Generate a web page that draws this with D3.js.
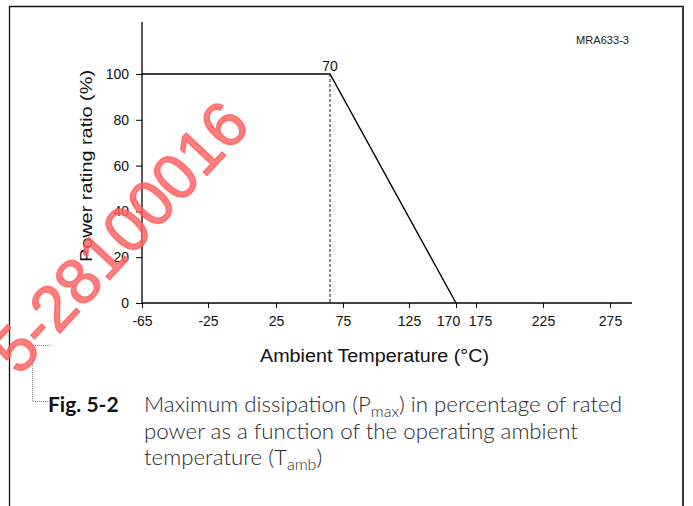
<!DOCTYPE html>
<html>
<head>
<meta charset="utf-8">
<script src="https://cdn.jsdelivr.net/npm/d3@7"></script>
<style>
  body { margin: 0; background: #fff; }
  svg { display: block; }
</style>
</head>
<body>
<svg id="chart" width="693" height="506"></svg>
<script>
// derating curve: temperature (degC) -> power ratio (%)
const curveTemp = [-65, 70, 170];
const curveRatio = [100, 100, 0];
const xTickValues = [-65, -25, 25, 75, 125, 170, 175, 225, 275];
const yTickValues = [0, 20, 40, 60, 80, 100];
const kneeTemp = 70;
const kneeLabel = '70';
const xTitle = 'Ambient Temperature (\u00B0C)';
const yTitle = 'Power rating ratio (%)';
const figCode = 'MRA633-3';
const captionTag = 'Fig. 5-2';
const watermark = '5-28100016';

(function () {
  'use strict';
  const svg = d3.select('#chart');
  const FONT = '"Liberation Sans", Arial, sans-serif';
  const CAPTION_FONT = 'Lato, "Open Sans", sans-serif';

  // the original drawing places its ticks unevenly, so the x scale is piecewise
  const x = d3.scaleLinear()
    .domain([-65, -25, 25, 70, 75, 125, 170, 175, 225, 275, 291])
    .range([142, 208, 276, 330, 343, 409, 456, 476, 543, 610, 632]);
  const y = d3.scaleLinear().domain([0, 122.7]).range([303, 22]);

  // page frame
  svg.append('path')
    .attr('d', 'M9.5,506V6.5H683V506')
    .attr('fill', 'none')
    .attr('stroke', '#111')
    .attr('stroke-width', 1.3);
  svg.append('line')
    .attr('x1', 683).attr('x2', 683).attr('y1', 6).attr('y2', 506)
    .attr('stroke', '#333').attr('stroke-width', 2);

  // x axis
  const xAxis = svg.append('g')
    .attr('transform', 'translate(0,' + y(0) + ')')
    .call(d3.axisBottom(x).tickValues(xTickValues).tickSize(5).tickPadding(8)
      .tickFormat(function (d) { return String(d); }));
  xAxis.select('.domain').remove();
  xAxis.append('line')
    .attr('x1', x(-65)).attr('x2', x(291))
    .attr('stroke', '#000').attr('stroke-width', 1.3);
  // 170 and 175 sit close together; nudge their labels apart like the original
  xAxis.selectAll('.tick text')
    .attr('dx', function (d) { return d === 170 ? -8 : (d === 175 ? 4 : 0); });

  // y axis
  const yAxis = svg.append('g')
    .attr('transform', 'translate(' + x(-65) + ',0)')
    .call(d3.axisLeft(y).tickValues(yTickValues).tickSize(6).tickPadding(7));
  yAxis.select('.domain').remove();
  yAxis.append('line')
    .attr('y1', y(0)).attr('y2', y(122.7))
    .attr('stroke', '#000').attr('stroke-width', 1.3);

  svg.selectAll('.tick text')
    .attr('font-family', FONT)
    .attr('font-size', 14)
    .attr('fill', '#111');
  svg.selectAll('.tick line').attr('stroke', '#000').attr('stroke-width', 1);

  // dashed drop line at the knee
  svg.append('line')
    .attr('x1', x(kneeTemp)).attr('x2', x(kneeTemp))
    .attr('y1', y(100)).attr('y2', y(0))
    .attr('stroke', '#000')
    .attr('stroke-width', 0.9)
    .attr('stroke-dasharray', '3,2');

  const line = d3.line()
    .x(function (d) { return x(d[0]); })
    .y(function (d) { return y(d[1]); });
  svg.append('path')
    .datum(d3.zip(curveTemp, curveRatio))
    .attr('d', line)
    .attr('fill', 'none')
    .attr('stroke', '#000')
    .attr('stroke-width', 1.4);

  svg.append('text')
    .attr('x', x(kneeTemp)).attr('y', 71)
    .attr('text-anchor', 'middle')
    .attr('font-family', FONT).attr('font-size', 14).attr('fill', '#111')
    .text(kneeLabel);

  svg.append('text')
    .attr('x', 576).attr('y', 44)
    .attr('font-family', FONT).attr('font-size', 10.5).attr('fill', '#222')
    .attr('textLength', 53).attr('lengthAdjust', 'spacingAndGlyphs')
    .text(figCode);

  // axis titles
  svg.append('text')
    .attr('transform', 'translate(92,166) rotate(-90)')
    .attr('text-anchor', 'middle')
    .attr('font-family', FONT).attr('font-size', 16).attr('fill', '#111')
    .attr('textLength', 192).attr('lengthAdjust', 'spacingAndGlyphs')
    .text(yTitle);
  svg.append('text')
    .attr('x', 374.5).attr('y', 361.5)
    .attr('text-anchor', 'middle')
    .attr('font-family', FONT).attr('font-size', 18).attr('fill', '#111')
    .attr('textLength', 229).attr('lengthAdjust', 'spacingAndGlyphs')
    .text(xTitle);

  // caption with dotted leader
  svg.append('path')
    .attr('d', 'M50,345.5H32.5V401.5H48')
    .attr('fill', 'none')
    .attr('stroke', '#888')
    .attr('stroke-width', 1)
    .attr('stroke-dasharray', '1,1');

  svg.append('text')
    .attr('x', 48).attr('y', 412)
    .attr('font-family', CAPTION_FONT).attr('font-size', 21)
    .attr('font-weight', 700).attr('fill', '#111')
    .text(captionTag);

  const captionLines = [
    [['Maximum dissipation (P', 0], ['max', 1], [') in percentage of rated', 0]],
    [['power as a function of the operating ambient', 0]],
    [['temperature (T', 0], ['amb', 1], [')', 0]]
  ];
  const cap = svg.append('text')
    .attr('font-family', CAPTION_FONT).attr('font-size', 22.3)
    .attr('font-weight', 300).attr('fill', '#2a2a2a');
  captionLines.forEach(function (parts, i) {
    parts.forEach(function (p, k) {
      const ts = cap.append('tspan').text(p[0]);
      if (k === 0) ts.attr('x', 144).attr('y', 412 + i * 26.5);
      if (p[1]) ts.attr('font-size', 16).attr('dy', 5);
      else if (k > 0 && parts[k - 1][1]) ts.attr('dy', -5);
    });
  });

  // red watermark on top
  svg.append('text')
    .attr('transform', 'translate(252,127) rotate(-47)')
    .attr('text-anchor', 'end')
    .attr('font-family', FONT).attr('font-size', 64)
    .attr('fill', 'rgba(255,95,95,0.8)')
    .attr('stroke', 'rgba(255,95,95,0.8)')
    .attr('stroke-width', 1.5)
    .attr('stroke-linejoin', 'round')
    .text(watermark);
})();
</script>
</body>
</html>
